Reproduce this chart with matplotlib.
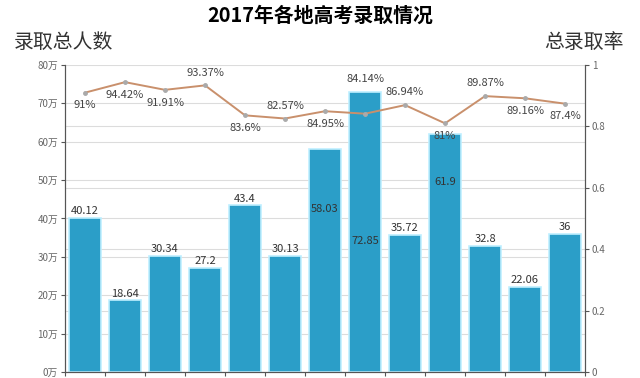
import matplotlib
matplotlib.use('Agg')
import matplotlib.pyplot as plt
import numpy as np

plt.rcParams['font.family'] = ['Noto Sans CJK SC', 'DejaVu Sans']

# data
admitted = [40.12, 18.64, 30.34, 27.2, 43.4, 30.13, 58.03, 72.85, 35.72, 61.9, 32.8, 22.06, 36]
rate_pct = [91, 94.42, 91.91, 93.37, 83.6, 82.57, 84.95, 84.14, 86.94, 81, 89.87, 89.16, 87.4]
rate_text = ['91%', '94.42%', '91.91%', '93.37%', '83.6%', '82.57%', '84.95%',
             '84.14%', '86.94%', '81%', '89.87%', '89.16%', '87.4%']
left_ticks = [0, 10, 20, 30, 40, 50, 60, 70, 80]
right_ticks = [0, 0.2, 0.4, 0.6, 0.8, 1]

# labels that sit inside their bars (fraction of bar height)
inside = {6: 0.73, 7: 0.47, 9: 0.8}
# rate label above (+1) or below (-1) the point
rate_side = [-1, -1, -1, 1, -1, 1, -1, 1, 1, -1, 1, -1, -1]

bar_c = '#2b9ec8'
line_c = '#c9906c'
grid_c = '#dcdcdc'
txt_c = '#444444'

fig = plt.figure(figsize=(6.4, 3.78), dpi=100)
ax = fig.add_axes([0.1016, 0.016, 0.8125, 0.812])
ax2 = ax.twinx()

x = np.arange(len(admitted))
ax.bar(x, admitted, width=0.78, color=bar_c, edgecolor='#bfefff', linewidth=1.2, zorder=2)
for i, v in enumerate(admitted):
    if i in inside:
        ax.text(i, v * inside[i], f'{v:g}', ha='center', va='center', fontsize=8, color='#333333', zorder=4)
    else:
        ax.text(i, v + 0.5, f'{v:g}', ha='center', va='bottom', fontsize=8, color='#333333', zorder=4)

ax.set_ylim(0, 80)
ax.set_yticks(left_ticks)
ax.set_yticklabels([f'{t}万' for t in left_ticks], fontsize=7, color='#666666')
ax.set_xlim(-0.5, len(admitted) - 0.5)
ax.set_xticks(np.arange(len(admitted) + 1) - 0.5)
ax.set_xticklabels([])
ax.yaxis.grid(True, color=grid_c, linewidth=0.8, zorder=0)
# right axis grid drawn on the left axes so it stays behind the bars
for t in right_ticks[1:-1]:
    ax.axhline(t * 80, color=grid_c, linewidth=0.8, zorder=0)
ax.set_axisbelow(True)

rates = [r / 100 for r in rate_pct]
ax2.plot(x, rates, color=line_c, linewidth=1.4, marker='o', markersize=2.5,
         markerfacecolor='#aaaaaa', markeredgecolor='#aaaaaa', zorder=3)
for i, r in enumerate(rates):
    if i == 7:
        ax2.text(i, 0.955, rate_text[i], ha='center', va='center', fontsize=8, color=txt_c)
    elif rate_side[i] > 0:
        ax2.text(i, r + 0.025, rate_text[i], ha='center', va='bottom', fontsize=8, color=txt_c)
    else:
        ax2.text(i, r - 0.025, rate_text[i], ha='center', va='top', fontsize=8, color=txt_c)
ax2.set_ylim(0, 1)
ax2.set_yticks(right_ticks)
ax2.set_yticklabels([f'{t:g}' for t in right_ticks], fontsize=7, color='#666666')
ax2.set_zorder(ax.get_zorder() + 1)
ax2.patch.set_visible(False)

for a in (ax, ax2):
    a.spines['top'].set_visible(False)
    for s in ('left', 'right', 'bottom'):
        a.spines[s].set_color('#555555')
    a.tick_params(direction='out', length=3, color='#555555', pad=2)

fig.text(0.5, 0.96, '2017年各地高考录取情况', ha='center', va='center', fontsize=14.3, fontweight='bold')
fig.text(0.022, 0.888, '录取总人数', ha='left', va='center', fontsize=14.3, color='#333333')
fig.text(0.975, 0.888, '总录取率', ha='right', va='center', fontsize=14.3, color='#333333')

fig.savefig('out.png', dpi=100)
